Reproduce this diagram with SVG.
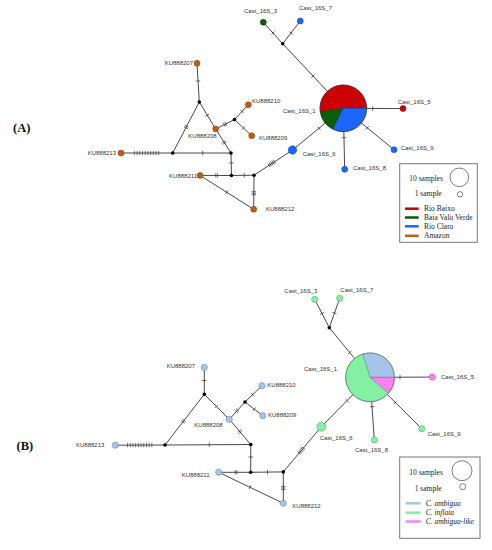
<svg xmlns="http://www.w3.org/2000/svg" xmlns:xlink="http://www.w3.org/1999/xlink" width="492" height="550" viewBox="0 0 492 550">
<style>
.e{stroke:#333;stroke-width:0.9;fill:none}
.tk{stroke:#333;stroke-width:0.7;fill:none}
.j{fill:#000}
.lbl{font-family:"Liberation Sans",Arial,sans-serif;font-size:6px;fill:#333}
.leg{font-family:"Liberation Serif","Times New Roman",serif;font-size:7.5px;fill:#222}
.it{font-style:italic}
.pl{font-family:"Liberation Serif","Times New Roman",serif;font-size:12.5px;font-weight:bold;fill:#111}
.or{fill:#c55a11;stroke:#8a3c0a;stroke-width:0.5}
.bl{fill:#1a66ff;stroke:#0a3fa0;stroke-width:0.5}
.rd{fill:#cc0000;stroke:#800000;stroke-width:0.5}
.gn{fill:#0a5e0a;stroke:#043504;stroke-width:0.5}
.lb{fill:#a4c4ea;stroke:#6f8fb5;stroke-width:0.6}
.lg{fill:#84f0a3;stroke:#5aa673;stroke-width:0.6}
.pk{fill:#ff80f2;stroke:#b050a8;stroke-width:0.6}
.box{fill:#fff;stroke:#777;stroke-width:1}
.sc{fill:#fff;stroke:#444;stroke-width:0.7}
</style>
<defs>
<g id="t1"><line x1="0" y1="-2.2" x2="0" y2="2.2"/></g>
<g id="t2"><line x1="-0.9" y1="-2.2" x2="-0.9" y2="2.2"/><line x1="0.9" y1="-2.2" x2="0.9" y2="2.2"/></g>
<g id="t3"><line x1="-1.6" y1="-2.2" x2="-1.6" y2="2.2"/><line x1="0" y1="-2.2" x2="0" y2="2.2"/><line x1="1.6" y1="-2.2" x2="1.6" y2="2.2"/></g>
<g id="t5"><line x1="-3.2" y1="-2.2" x2="-3.2" y2="2.2"/><line x1="-1.6" y1="-2.2" x2="-1.6" y2="2.2"/><line x1="0" y1="-2.2" x2="0" y2="2.2"/><line x1="1.6" y1="-2.2" x2="1.6" y2="2.2"/><line x1="3.2" y1="-2.2" x2="3.2" y2="2.2"/></g>
<g id="t10"><line x1="-12.15" y1="-2.2" x2="-12.15" y2="2.2"/><line x1="-9.45" y1="-2.2" x2="-9.45" y2="2.2"/><line x1="-6.75" y1="-2.2" x2="-6.75" y2="2.2"/><line x1="-4.05" y1="-2.2" x2="-4.05" y2="2.2"/><line x1="-1.35" y1="-2.2" x2="-1.35" y2="2.2"/><line x1="1.35" y1="-2.2" x2="1.35" y2="2.2"/><line x1="4.05" y1="-2.2" x2="4.05" y2="2.2"/><line x1="6.75" y1="-2.2" x2="6.75" y2="2.2"/><line x1="9.45" y1="-2.2" x2="9.45" y2="2.2"/><line x1="12.15" y1="-2.2" x2="12.15" y2="2.2"/></g>
</defs>
<rect width="492" height="550" fill="#fff"/>
<text class="pl" x="13" y="131.5">(A)</text>
<text class="pl" x="16.5" y="449.5">(B)</text>

<!-- ===== Panel A connectors ===== -->
<g id="connectors-A">
<g class="e">
<line x1="263.3" y1="22.3" x2="282.7" y2="43.7"/>
<line x1="300.3" y1="21" x2="282.7" y2="43.7"/>
<line x1="282.7" y1="43.7" x2="343.3" y2="108.3"/>
<line x1="197" y1="63.3" x2="199.3" y2="102"/>
<line x1="199.3" y1="102" x2="172.7" y2="153"/>
<line x1="199.3" y1="102" x2="215.7" y2="129"/>
<line x1="215.7" y1="129" x2="234.5" y2="119.5"/>
<line x1="234.5" y1="119.5" x2="248.3" y2="104.7"/>
<line x1="234.5" y1="119.5" x2="251.7" y2="135.7"/>
<line x1="215.7" y1="129" x2="231" y2="153"/>
<line x1="172.7" y1="153" x2="231" y2="153"/>
<line x1="121" y1="153" x2="172.7" y2="153"/>
<line x1="231" y1="153" x2="231.5" y2="175.5"/>
<line x1="200" y1="175.4" x2="231.5" y2="175.5"/>
<line x1="231.5" y1="175.5" x2="254" y2="175.2"/>
<line x1="200" y1="175.4" x2="253.7" y2="209.3"/>
<line x1="254" y1="175.2" x2="253.7" y2="209.3"/>
<line x1="254" y1="175.2" x2="292.5" y2="150"/>
<line x1="292.5" y1="150" x2="343.3" y2="108.3"/>
<line x1="343.3" y1="108.3" x2="403" y2="108.6"/>
<line x1="343.3" y1="108.3" x2="344.7" y2="169.3"/>
<line x1="343.3" y1="108.3" x2="394" y2="149.7"/>
</g>
<g class="tk">
<use xlink:href="#t1" transform="translate(273,33) rotate(47.8)"/>
<use xlink:href="#t1" transform="translate(291,33) rotate(127.8)"/>
<use xlink:href="#t1" transform="translate(313,76) rotate(46.8)"/>
<use xlink:href="#t1" transform="translate(198.05,81) rotate(86.6)"/>
<use xlink:href="#t2" transform="translate(186.3,127) rotate(117.5)"/>
<use xlink:href="#t1" transform="translate(207.3,115.2) rotate(58.7)"/>
<use xlink:href="#t2" transform="translate(225,124.3) rotate(-26.8)"/>
<use xlink:href="#t1" transform="translate(242,111.5) rotate(-47)"/>
<use xlink:href="#t1" transform="translate(243.5,127.9) rotate(43.3)"/>
<use xlink:href="#t2" transform="translate(224,142.5) rotate(58.3)"/>
<use xlink:href="#t1" transform="translate(202.7,153) rotate(0)"/>
<use xlink:href="#t10" transform="translate(146.5,153) rotate(0)"/>
<use xlink:href="#t1" transform="translate(231.2,163) rotate(88.7)"/>
<use xlink:href="#t2" transform="translate(216.7,175.45) rotate(0)"/>
<use xlink:href="#t1" transform="translate(244.3,175.3) rotate(0)"/>
<use xlink:href="#t1" transform="translate(226.7,192.2) rotate(32.3)"/>
<use xlink:href="#t3" transform="translate(253.8,193.3) rotate(90)"/>
<use xlink:href="#t5" transform="translate(271.7,163.5) rotate(-33)"/>
<use xlink:href="#t1" transform="translate(319,128.3) rotate(-39.4)"/>
<use xlink:href="#t1" transform="translate(372.7,108.45) rotate(0)"/>
<use xlink:href="#t1" transform="translate(344,137.7) rotate(88.7)"/>
<use xlink:href="#t1" transform="translate(367.3,127.8) rotate(39.2)"/>
</g>
</g>

<!-- ===== Panel A nodes ===== -->
<g id="A-Cast_16S_1">
<path class="rd" d="M343.3,108.3 L366.6,108.3 A23.3,23.3 0 1 0 320.26,111.75 Z"/>
<path class="gn" d="M343.3,108.3 L320.26,111.75 A23.3,23.3 0 0 0 333.09,129.24 Z"/>
<path class="bl" d="M343.3,108.3 L366.6,108.3 A23.3,23.3 0 0 1 333.09,129.24 Z"/>
<circle cx="343.3" cy="108.3" r="23.3" fill="none" stroke="#333" stroke-width="0.6"/>
<text class="lbl" x="315.7" y="112.5" text-anchor="end">Cast_16S_1</text>
</g>
<g id="A-Cast_16S_3"><circle class="gn" cx="263.3" cy="22.3" r="3"/><text class="lbl" x="260.5" y="13.3" text-anchor="middle">Cast_16S_3</text></g>
<g id="A-Cast_16S_7"><circle class="bl" cx="300.3" cy="21" r="3"/><text class="lbl" x="299" y="10.3">Cast_16S_7</text></g>
<g id="A-Cast_16S_5"><circle class="rd" cx="403" cy="108.6" r="3"/><text class="lbl" x="397.7" y="104">Cast_16S_5</text></g>
<g id="A-Cast_16S_9"><circle class="bl" cx="394" cy="149.7" r="3"/><text class="lbl" x="400.7" y="150">Cast_16S_9</text></g>
<g id="A-Cast_16S_8"><circle class="bl" cx="344.7" cy="169.3" r="3"/><text class="lbl" x="353" y="170">Cast_16S_8</text></g>
<g id="A-Cast_16S_6"><circle class="bl" cx="292.5" cy="150" r="4.2"/><text class="lbl" x="302.7" y="156">Cast_16S_6</text></g>
<g id="A-KU888207"><circle class="or" cx="197" cy="63.3" r="3"/><text class="lbl" x="193" y="65.3" text-anchor="end">KU888207</text></g>
<g id="A-KU888210"><circle class="or" cx="248.3" cy="104.7" r="3"/><text class="lbl" x="252" y="103.3">KU888210</text></g>
<g id="A-KU888208"><circle class="or" cx="215.7" cy="129" r="3"/><text class="lbl" x="188.3" y="137.6">KU888208</text></g>
<g id="A-KU888209"><circle class="or" cx="251.7" cy="135.7" r="3"/><text class="lbl" x="259" y="140">KU888209</text></g>
<g id="A-KU888213"><circle class="or" cx="121" cy="153" r="3"/><text class="lbl" x="116" y="154.6" text-anchor="end">KU888213</text></g>
<g id="A-KU888211"><circle class="or" cx="200" cy="175.4" r="3"/><text class="lbl" x="197" y="178.4" text-anchor="end">KU888211</text></g>
<g id="A-KU888212"><circle class="or" cx="253.7" cy="209.3" r="3"/><text class="lbl" x="266" y="211.3">KU888212</text></g>
<g id="A-junctions">
<circle class="j" cx="282.7" cy="43.7" r="1.8"/>
<circle class="j" cx="199.3" cy="102" r="1.8"/>
<circle class="j" cx="234.5" cy="119.5" r="1.8"/>
<circle class="j" cx="172.7" cy="153" r="1.8"/>
<circle class="j" cx="231" cy="153" r="1.8"/>
<circle class="j" cx="231.5" cy="175.5" r="1.8"/>
<circle class="j" cx="254" cy="175.2" r="1.8"/>
</g>

<!-- ===== Legend A ===== -->
<g id="legend-A">
<rect class="box" x="399.7" y="163.7" width="77.6" height="78.6"/>
<text class="leg" x="409.3" y="180.8">10 samples</text>
<circle class="sc" cx="459.3" cy="177.3" r="9.3"/>
<text class="leg" x="414.7" y="195.8">1 sample</text>
<circle class="sc" cx="460" cy="194.3" r="2.7"/>
<line x1="405" y1="208.7" x2="418.7" y2="208.7" stroke="#cc0000" stroke-width="2.5"/>
<line x1="405" y1="217.5" x2="418.7" y2="217.5" stroke="#0a5e0a" stroke-width="2.5"/>
<line x1="405" y1="226.3" x2="418.7" y2="226.3" stroke="#1a66ff" stroke-width="2.5"/>
<line x1="405" y1="235.8" x2="418.7" y2="235.8" stroke="#c55a11" stroke-width="2.5"/>
<text class="leg" x="424" y="211.2">Rio Baixo</text>
<text class="leg" x="424" y="220">Baia Valo Verde</text>
<text class="leg" x="424" y="228.8">Rio Claro</text>
<text class="leg" x="424" y="238.3">Amazon</text>
</g>

<!-- ===== Panel B connectors ===== -->
<g id="connectors-B">
<g class="e">
<line x1="314.7" y1="299.3" x2="329.3" y2="327.7"/>
<line x1="339.7" y1="298.3" x2="329.3" y2="327.7"/>
<line x1="329.3" y1="327.7" x2="370" y2="377.3"/>
<line x1="370" y1="377.3" x2="432.3" y2="377.1"/>
<line x1="370" y1="377.3" x2="374.3" y2="440"/>
<line x1="370" y1="377.3" x2="421.7" y2="428.7"/>
<line x1="370" y1="377.3" x2="321.3" y2="426.7"/>
<line x1="321.3" y1="426.7" x2="283.3" y2="471.9"/>
<line x1="283.3" y1="471.9" x2="283.3" y2="503.3"/>
<line x1="250.7" y1="472.3" x2="283.3" y2="471.9"/>
<line x1="218.7" y1="472.3" x2="250.7" y2="472.3"/>
<line x1="218.7" y1="472.3" x2="283.3" y2="503.3"/>
<line x1="250.8" y1="444.5" x2="250.7" y2="472.3"/>
<line x1="165" y1="445" x2="250.8" y2="444.5"/>
<line x1="115.3" y1="445.2" x2="165" y2="445"/>
<line x1="165" y1="445" x2="204.3" y2="394.3"/>
<line x1="204.3" y1="394.3" x2="204.3" y2="367.3"/>
<line x1="204.3" y1="394.3" x2="229.3" y2="419.3"/>
<line x1="229.3" y1="419.3" x2="245" y2="402"/>
<line x1="245" y1="402" x2="262" y2="385.7"/>
<line x1="245" y1="402" x2="262.7" y2="415.7"/>
<line x1="229.3" y1="419.3" x2="250.8" y2="444.5"/>
</g>
<g class="tk">
<use xlink:href="#t1" transform="translate(322,313.5) rotate(62.8)"/>
<use xlink:href="#t1" transform="translate(334.5,313) rotate(109.5)"/>
<use xlink:href="#t1" transform="translate(349.7,352.5) rotate(50.6)"/>
<use xlink:href="#t1" transform="translate(400,377.2) rotate(0)"/>
<use xlink:href="#t1" transform="translate(372.2,406.7) rotate(86.1)"/>
<use xlink:href="#t1" transform="translate(395.3,402.4) rotate(44.8)"/>
<use xlink:href="#t1" transform="translate(347,400.6) rotate(134.6)"/>
<use xlink:href="#t5" transform="translate(301.2,450.5) rotate(130.2)"/>
<use xlink:href="#t3" transform="translate(283.3,488) rotate(90)"/>
<use xlink:href="#t1" transform="translate(267.5,472.1) rotate(0)"/>
<use xlink:href="#t2" transform="translate(236,472.3) rotate(0)"/>
<use xlink:href="#t1" transform="translate(250,487.3) rotate(25.6)"/>
<use xlink:href="#t1" transform="translate(250.75,457) rotate(90)"/>
<use xlink:href="#t1" transform="translate(209.3,444.75) rotate(0)"/>
<use xlink:href="#t10" transform="translate(139.7,445.1) rotate(0)"/>
<use xlink:href="#t2" transform="translate(183.5,421.3) rotate(-52.2)"/>
<use xlink:href="#t1" transform="translate(204.3,380.5) rotate(90)"/>
<use xlink:href="#t1" transform="translate(216.3,406.5) rotate(45)"/>
<use xlink:href="#t2" transform="translate(237,410.8) rotate(-47.8)"/>
<use xlink:href="#t1" transform="translate(252.7,394.6) rotate(-43.8)"/>
<use xlink:href="#t1" transform="translate(254.3,409.2) rotate(37.7)"/>
<use xlink:href="#t2" transform="translate(240,431.8) rotate(49.3)"/>
</g>
</g>

<!-- ===== Panel B nodes ===== -->
<g id="B-Cast_16S_1">
<path class="lb" d="M370,377.3 L362.70,354.02 A24.4,24.4 0 0 1 394.4,377.3 Z"/>
<path class="pk" d="M370,377.3 L394.4,377.3 A24.4,24.4 0 0 1 388.42,393.31 Z"/>
<path class="lg" d="M370,377.3 L388.42,393.31 A24.4,24.4 0 1 1 362.70,354.02 Z"/>
<circle cx="370" cy="377.3" r="24.4" fill="none" stroke="#666" stroke-width="0.6"/>
<text class="lbl" x="304" y="371">Cast_16S_1</text>
</g>
<g id="B-Cast_16S_3"><circle class="lg" cx="314.7" cy="299.3" r="3.1"/><text class="lbl" x="284.3" y="292.9">Cast_16S_3</text></g>
<g id="B-Cast_16S_7"><circle class="lg" cx="339.7" cy="298.3" r="3.1"/><text class="lbl" x="340.3" y="292">Cast_16S_7</text></g>
<g id="B-Cast_16S_5"><circle class="pk" cx="432.3" cy="377.1" r="3.1"/><text class="lbl" x="441" y="379">Cast_16S_5</text></g>
<g id="B-Cast_16S_9"><circle class="lg" cx="421.7" cy="428.7" r="3.1"/><text class="lbl" x="427.7" y="436">Cast_16S_9</text></g>
<g id="B-Cast_16S_8"><circle class="lg" cx="374.3" cy="440" r="3.1"/><text class="lbl" x="355" y="451.5">Cast_16S_8</text></g>
<g id="B-Cast_16S_6"><circle class="lg" cx="321.3" cy="426.7" r="4.5"/><text class="lbl" x="319.7" y="440.2">Cast_16S_6</text></g>
<g id="B-KU888207"><circle class="lb" cx="204.3" cy="367.3" r="3.1"/><text class="lbl" x="166.7" y="368.3">KU888207</text></g>
<g id="B-KU888210"><circle class="lb" cx="262" cy="385.7" r="3.1"/><text class="lbl" x="267.3" y="386.5">KU888210</text></g>
<g id="B-KU888208"><circle class="lb" cx="229.3" cy="419.3" r="3.1"/><text class="lbl" x="194.3" y="426.5">KU888208</text></g>
<g id="B-KU888209"><circle class="lb" cx="262.7" cy="415.7" r="3.1"/><text class="lbl" x="268" y="417.3">KU888209</text></g>
<g id="B-KU888213"><circle class="lb" cx="115.3" cy="445.2" r="3.1"/><text class="lbl" x="76" y="446.5">KU888213</text></g>
<g id="B-KU888211"><circle class="lb" cx="218.7" cy="472.3" r="3.1"/><text class="lbl" x="181.7" y="476.6">KU888211</text></g>
<g id="B-KU888212"><circle class="lb" cx="283.3" cy="503.3" r="3.1"/><text class="lbl" x="292.3" y="508.2">KU888212</text></g>
<g id="B-junctions">
<circle class="j" cx="329.3" cy="327.7" r="1.8"/>
<circle class="j" cx="204.3" cy="394.3" r="1.8"/>
<circle class="j" cx="245" cy="402" r="1.8"/>
<circle class="j" cx="165" cy="445" r="1.8"/>
<circle class="j" cx="250.8" cy="444.5" r="1.8"/>
<circle class="j" cx="250.7" cy="472.3" r="1.8"/>
<circle class="j" cx="283.3" cy="471.9" r="1.8"/>
</g>

<!-- ===== Legend B ===== -->
<g id="legend-B">
<rect class="box" x="399.7" y="457" width="80.3" height="81.3"/>
<text class="leg" x="409.3" y="474.5">10 samples</text>
<circle class="sc" cx="462" cy="470.7" r="10"/>
<text class="leg" x="414.7" y="490.5">1 sample</text>
<circle class="sc" cx="462.7" cy="486.7" r="3"/>
<line x1="405.7" y1="503.3" x2="420.7" y2="503.3" stroke="#a4c4ea" stroke-width="2.5"/>
<line x1="405.7" y1="512.7" x2="420.7" y2="512.7" stroke="#84f0a3" stroke-width="2.5"/>
<line x1="405.7" y1="521.5" x2="420.7" y2="521.5" stroke="#ff80f2" stroke-width="2.5"/>
<text class="leg it" x="425.7" y="505.8">C. ambigua</text>
<text class="leg it" x="425.7" y="515.2">C. inflata</text>
<text class="leg it" x="425.7" y="524">C. ambigua-like</text>
</g>
</svg>
